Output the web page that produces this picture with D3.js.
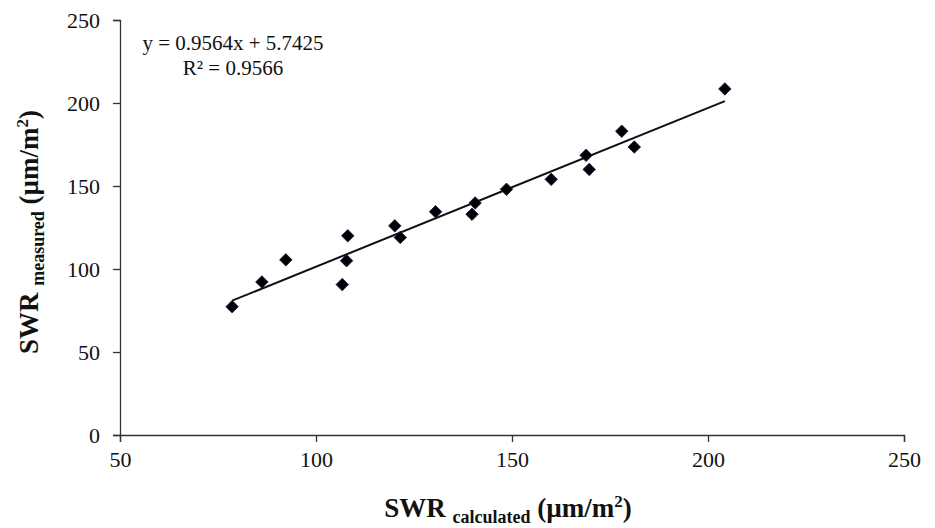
<!DOCTYPE html>
<html lang="en">
<head>
  <meta charset="UTF-8">
  <title>SWR measured vs calculated</title>
  <script src="https://d3js.org/d3.v7.min.js"></script>
  <style>
    body { margin: 0; background: #fff; }
    svg { display: block; font-family: "Liberation Serif", "Times New Roman", serif; }
  </style>
</head>
<body>
<svg id="chart" width="935" height="528"></svg>
<script>
// data
const swrCalculated = [78.6, 86.2, 92.3, 106.7, 107.8, 108.1, 120.1, 121.5, 130.5, 139.8, 140.6, 148.6, 160.0, 168.9, 169.7, 178.0, 181.2, 204.3];
const swrMeasured   = [77.3, 92.2, 105.5, 90.6, 105.0, 120.0, 126.0, 119.0, 134.5, 133.0, 139.8, 148.0, 154.0, 168.5, 160.0, 183.0, 173.5, 208.5];
const xTicks = [50, 100, 150, 200, 250];
const yTicks = [0, 50, 100, 150, 200, 250];
const trendSlope = 0.9564;
const trendIntercept = 5.7425;
const eqLabel = "y = 0.9564x + 5.7425";
const r2Label = "R² = 0.9566";

const points = swrCalculated.map((v, i) => ({ x: v, y: swrMeasured[i] }));

const svg = d3.select("#chart");
const margin = { top: 20, right: 31, bottom: 93, left: 120 };
const width = +svg.attr("width");
const height = +svg.attr("height");

const x = d3.scaleLinear().domain([50, 250]).range([margin.left, width - margin.right]);
const y = d3.scaleLinear().domain([0, 250]).range([height - margin.bottom, margin.top]);

// axes
const xAxis = svg.append("g")
  .attr("transform", `translate(0,${y(0)})`)
  .call(d3.axisBottom(x).tickValues(xTicks).tickSize(7).tickPadding(9));
const yAxis = svg.append("g")
  .attr("transform", `translate(${x(50)},0)`)
  .call(d3.axisLeft(y).tickValues(yTicks).tickSize(7).tickPadding(13));

[xAxis, yAxis].forEach(g => {
  g.select(".domain").attr("stroke", "#333").attr("stroke-width", 1.3);
  g.selectAll(".tick line").attr("stroke", "#333").attr("stroke-width", 1.3);
  g.selectAll(".tick text")
    .attr("fill", "#111")
    .style("font-family", "'Liberation Serif', serif")
    .style("font-size", "22px");
});
yAxis.selectAll(".tick text").attr("dy", "0.35em");

// trend line
const xExt = d3.extent(swrCalculated);
svg.append("line")
  .attr("x1", x(xExt[0]))
  .attr("y1", y(trendSlope * xExt[0] + trendIntercept))
  .attr("x2", x(xExt[1]))
  .attr("y2", y(trendSlope * xExt[1] + trendIntercept))
  .attr("stroke", "#111")
  .attr("stroke-width", 2);

// markers (diamonds)
const diamond = d3.symbol().type(d3.symbolSquare).size(78);
svg.selectAll(".dot")
  .data(points)
  .enter()
  .append("path")
  .attr("class", "dot")
  .attr("d", diamond)
  .attr("transform", d => `translate(${x(d.x)},${y(d.y)}) rotate(45)`)
  .attr("fill", "#000")
  .attr("stroke", "#1a1a4a")
  .attr("stroke-width", 0.8);

// equation labels
svg.append("text")
  .attr("x", 233).attr("y", 50)
  .attr("text-anchor", "middle")
  .style("font-size", "21px")
  .attr("fill", "#111")
  .text(eqLabel);
svg.append("text")
  .attr("x", 233).attr("y", 75)
  .attr("text-anchor", "middle")
  .style("font-size", "21px")
  .attr("fill", "#111")
  .text(r2Label);

// axis titles
function axisTitle(sel, sub) {
  sel.style("font-weight", "bold")
    .style("font-size", "27px")
    .attr("fill", "#111")
    .attr("text-anchor", "middle");
  sel.append("tspan").text("SWR ");
  sel.append("tspan").attr("dy", 6).style("font-size", "18px").text(sub);
  sel.append("tspan").attr("dy", -6).text(" (µm/m");
  sel.append("tspan").attr("dy", -10).style("font-size", "17px").text("2");
  sel.append("tspan").attr("dy", 10).text(")");
}

svg.append("text")
  .attr("x", 508).attr("y", 517)
  .call(axisTitle, "calculated");

svg.append("text")
  .attr("transform", `translate(38,${232}) rotate(-90)`)
  .call(axisTitle, "measured");
</script>
</body>
</html>
